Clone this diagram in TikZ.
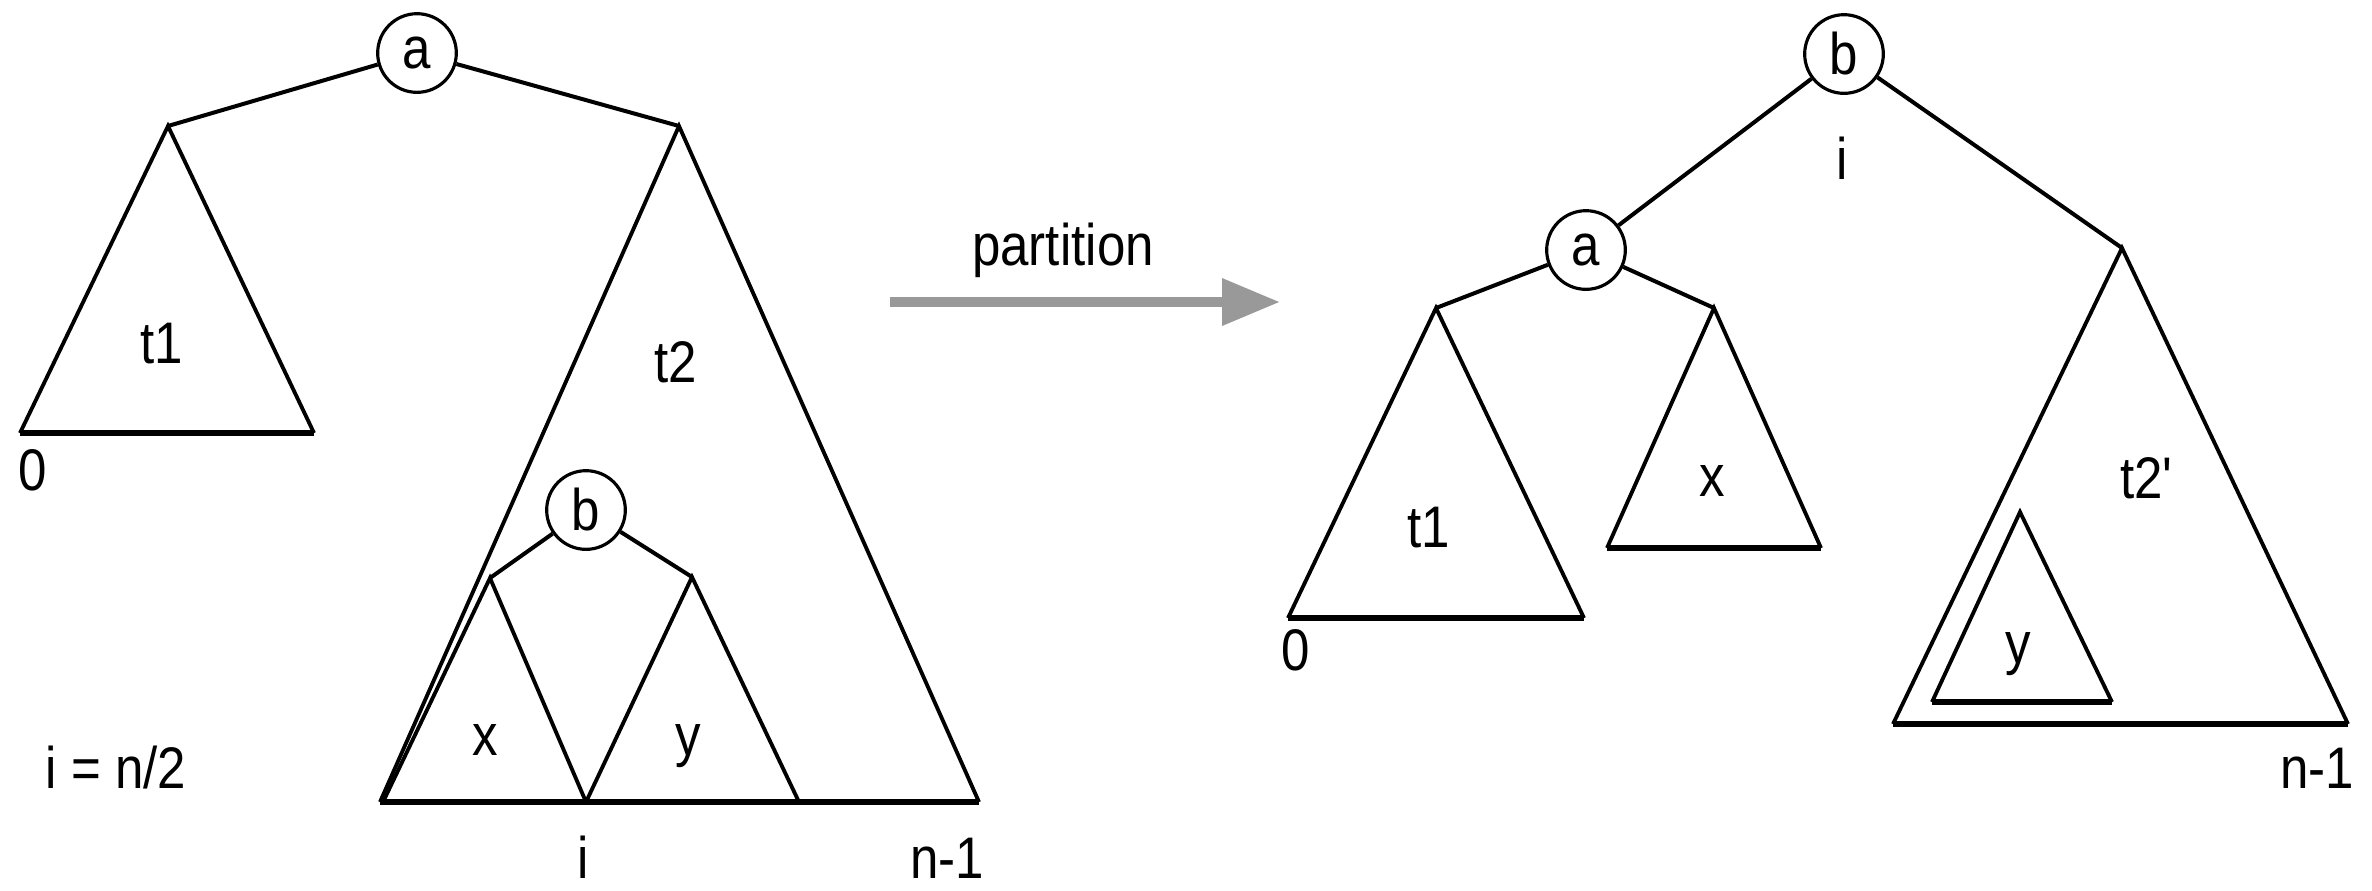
\documentclass[tikz,border=0pt]{standalone}
\usepackage{fontspec}
\setmainfont{Liberation Sans}[FakeStretch=0.87]
\usetikzlibrary{arrows.meta}
\tikzset{
  edge/.style={line width=1.2pt, black},
  tri/.style={line width=1.15pt, black, line join=miter},
  basestroke/.style={line width=1.6pt, black},
  vtx/.style={draw, circle, line width=0.95pt, minimum size=23.6pt, inner sep=0pt, font=\fontsize{17.6}{19}\selectfont},
  lbl/.style={anchor=base, inner sep=0pt, font=\fontsize{17.6}{19}\selectfont},
  flow/.style={draw=black!40, line width=3pt, -{Triangle[length=17.4pt,width=13.5pt]}}
}
\begin{document}
\begin{tikzpicture}[x=0.3pt,y=-0.3pt]
\useasboundingbox (0,0) rectangle (2372,890);
% ---------------- left tree ----------------
\node[vtx] (La) at (417,53) {a};
\coordinate (Lt1top) at (168,126);
\coordinate (Lt1l) at (20,433);
\coordinate (Lt1r) at (314,433);
\coordinate (Lt2top) at (679,126);
\coordinate (Lt2l) at (380,802);
\coordinate (Lt2r) at (979,802);
\node[vtx] (Lb) at (586,510) {b};
\coordinate (Lxtop) at (490,578);
\coordinate (Lxl) at (383,802);
\coordinate (Lxr) at (586,802);
\coordinate (Lytop) at (692,577);
\coordinate (Lyl) at (586,802);
\coordinate (Lyr) at (799,802);

\draw[edge] (La) -- (Lt1top);
\draw[edge] (La) -- (Lt2top);
\draw[tri] (Lt1l) -- (Lt1top) -- (Lt1r);
\draw[basestroke] (Lt1l) -- (Lt1r);
\draw[tri] (Lt2l) -- (Lt2top) -- (Lt2r);
\draw[basestroke] (Lt2l) -- (Lt2r);
\draw[edge] (Lb) -- (Lxtop);
\draw[edge] (Lb) -- (Lytop);
\draw[tri] (Lxl) -- (Lxtop) -- (Lxr);
\draw[tri] (Lyl) -- (Lytop) -- (Lyr);

\node[lbl] (Lt1lab) at (162,363) {t1};
\node[lbl] (Lt2lab) at (676,382) {t2};
\node[lbl] (Lzero) at (33,490) {0};
\node[lbl] (Lxlab) at (485,755) {x};
\node[lbl] (Lylab) at (688,755) {y};
\node[lbl] (Lilab) at (583,878) {i};
\node[lbl] (Lnlab) at (947,878) {n-1};
\node[lbl, anchor=base west] (Lhalf) at (45,788) {i = n/2};

% ---------------- arrow ----------------
\coordinate (Astart) at (890,302);
\coordinate (Aend) at (1280,302);
\draw[flow] (Astart) -- (Aend);
\node[lbl] (Alab) at (1063,265) {partition};

% ---------------- right tree ----------------
\node[vtx] (Rb) at (1844,54) {b};
\node[vtx] (Ra) at (1586,250) {a};
\coordinate (Rt1top) at (1436,308);
\coordinate (Rt1l) at (1288,618);
\coordinate (Rt1r) at (1584,618);
\coordinate (Rxtop) at (1714,308);
\coordinate (Rxl) at (1607,548);
\coordinate (Rxr) at (1821,548);
\coordinate (Rt2top) at (2122,248);
\coordinate (Rt2l) at (1893,724);
\coordinate (Rt2r) at (2348,724);
\coordinate (Rytop) at (2020,512);
\coordinate (Ryl) at (1932,702);
\coordinate (Ryr) at (2112,702);

\draw[edge] (Rb) -- (Ra);
\draw[edge] (Rb) -- (Rt2top);
\draw[edge] (Ra) -- (Rt1top);
\draw[edge] (Ra) -- (Rxtop);
\draw[tri] (Rt1l) -- (Rt1top) -- (Rt1r);
\draw[basestroke] (Rt1l) -- (Rt1r);
\draw[tri] (Rxl) -- (Rxtop) -- (Rxr);
\draw[basestroke] (Rxl) -- (Rxr);
\draw[tri] (Rt2l) -- (Rt2top) -- (Rt2r);
\draw[basestroke] (Rt2l) -- (Rt2r);
\draw[tri] (Ryl) -- (Rytop) -- (Ryr);
\draw[basestroke] (Ryl) -- (Ryr);

\node[lbl] (Rilab) at (1842,179) {i};
\node[lbl] (Rt1lab) at (1429,547) {t1};
\node[lbl] (Rxlab) at (1712,496) {x};
\node[lbl] (Rzero) at (1296,670) {0};
\node[lbl] (Rt2lab) at (2147,498) {t2\textquotesingle};
\node[lbl] (Rylab) at (2018,663) {y};
\node[lbl] (Rnlab) at (2317,788) {n-1};
\end{tikzpicture}
\end{document}
